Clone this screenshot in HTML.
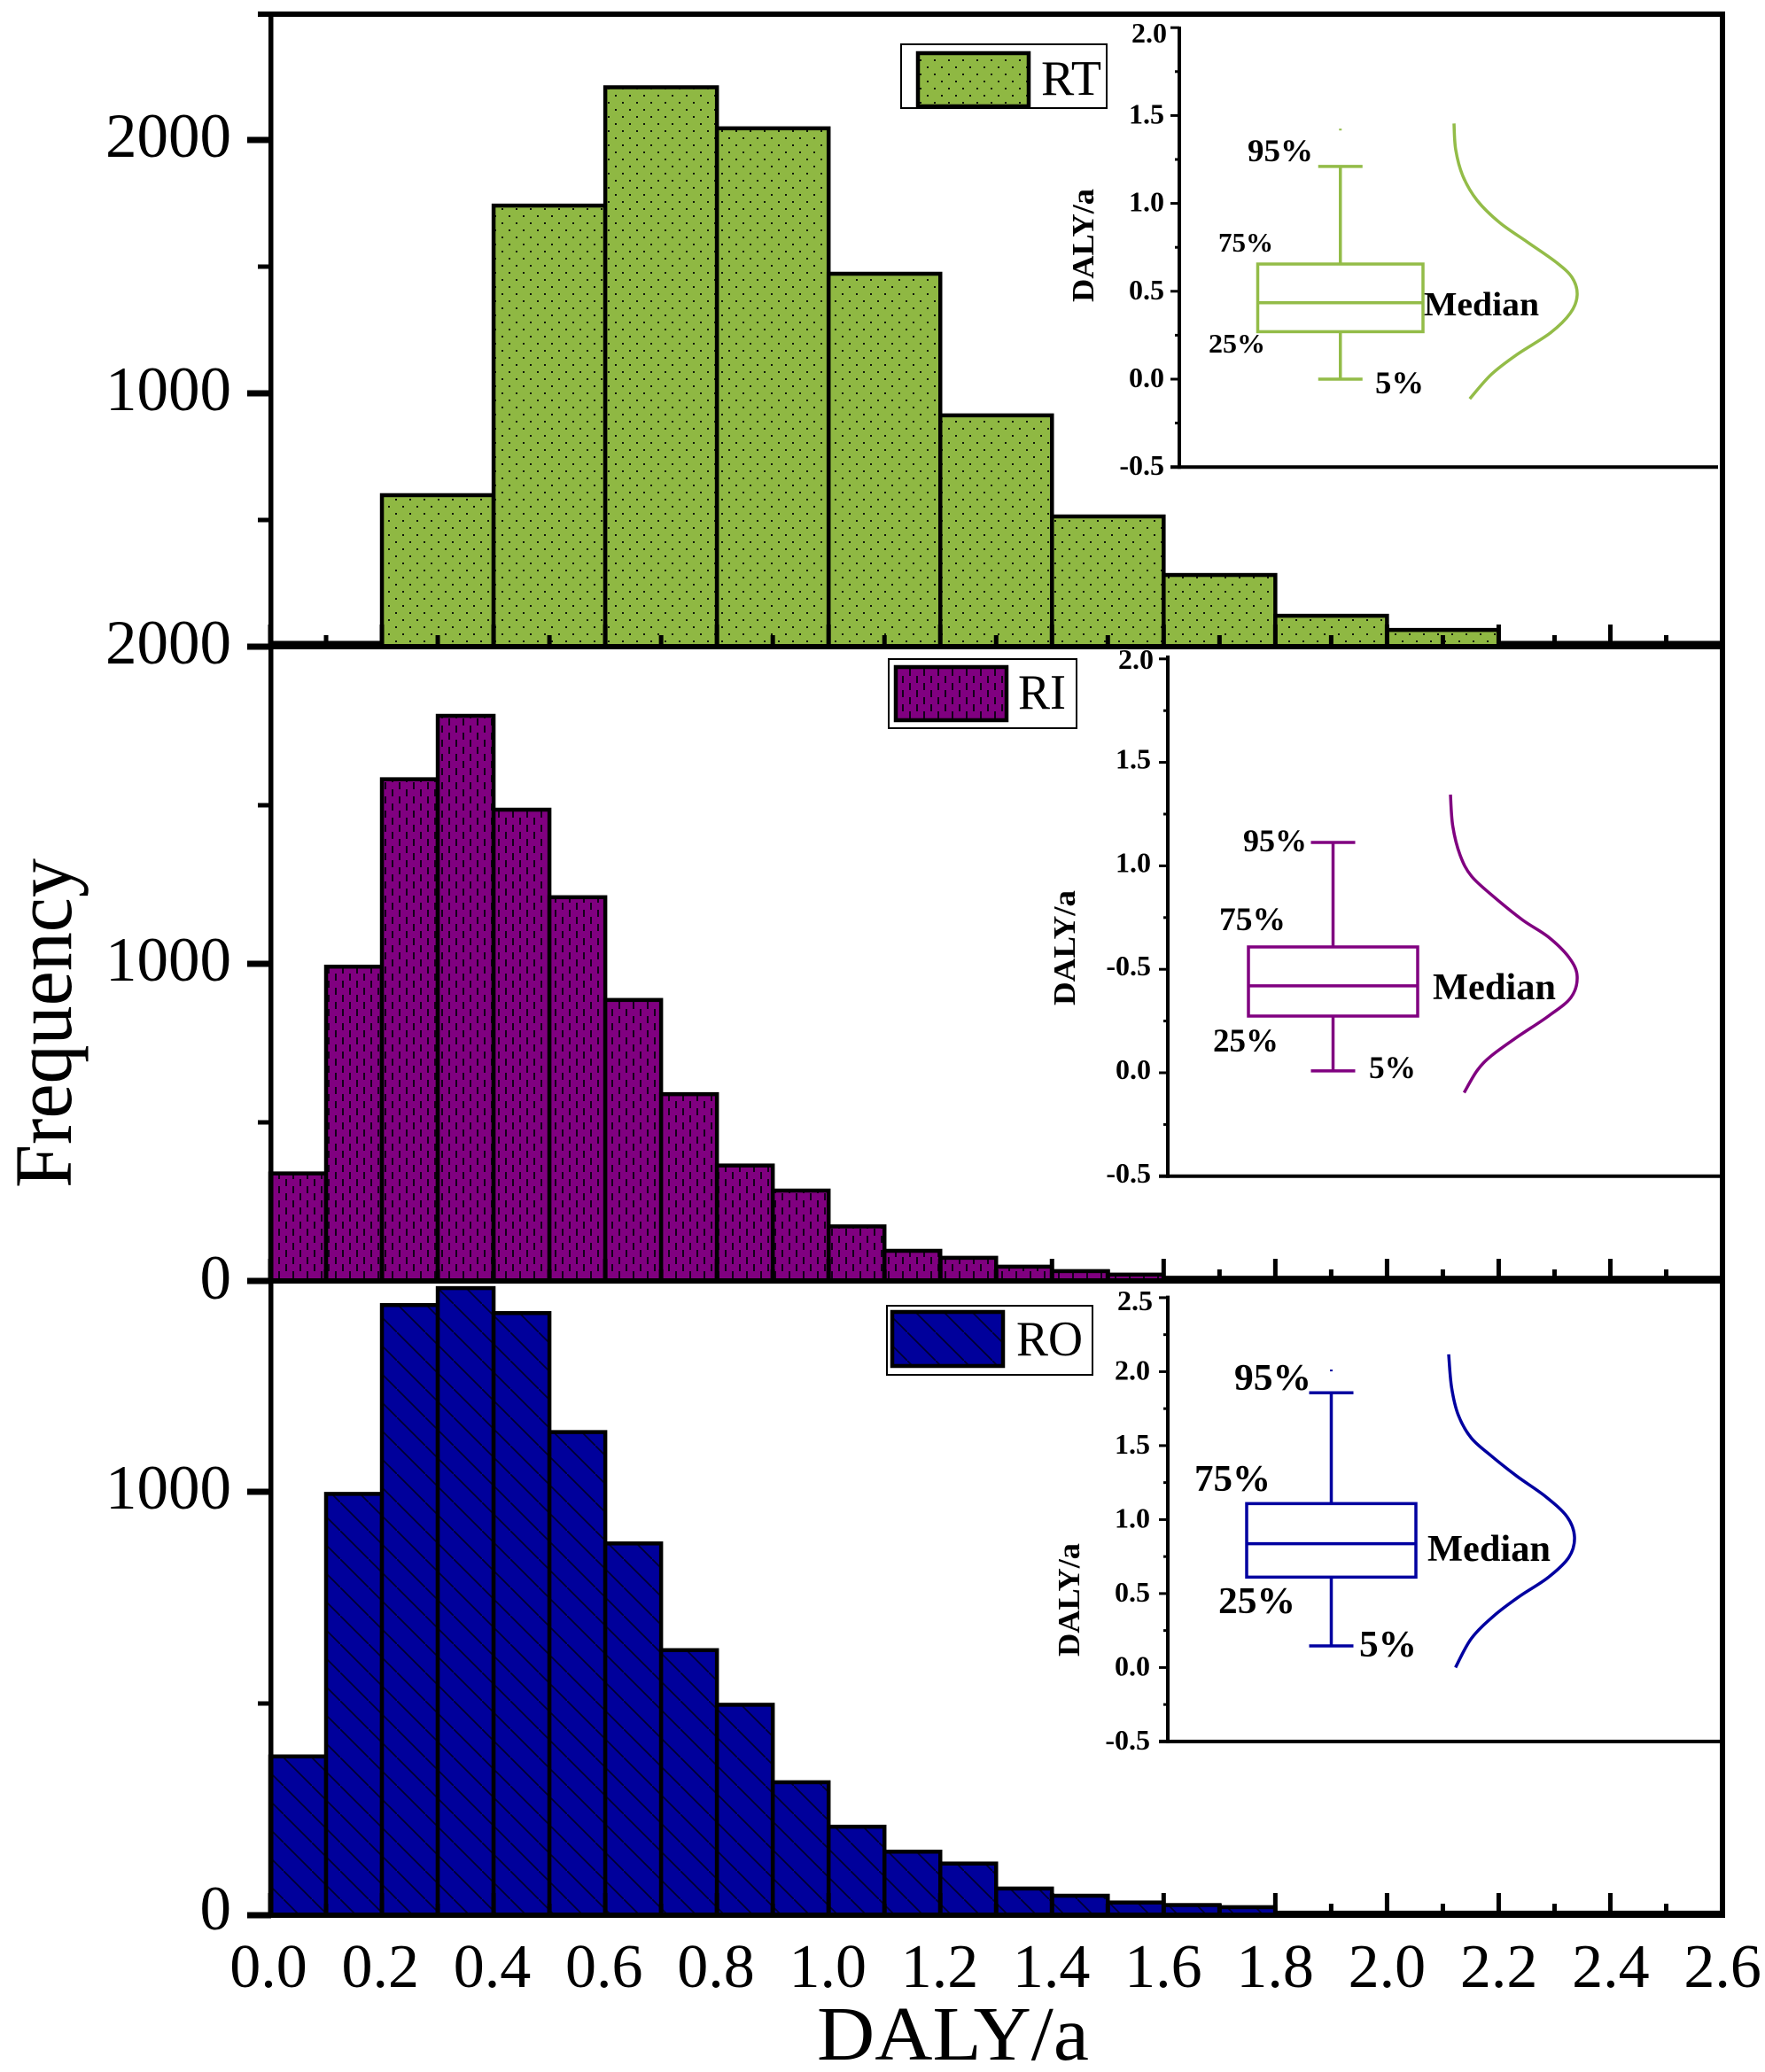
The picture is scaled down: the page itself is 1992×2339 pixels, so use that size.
<!DOCTYPE html>
<html lang="en">
<head>
<meta charset="utf-8">
<title>DALY/a frequency histograms</title>
<style>
html,body{margin:0;padding:0;background:#fff}
svg{display:block}
text{font-family:"Liberation Serif","DejaVu Serif",serif;fill:#000}
.inset-text{font-weight:bold}
</style>
</head>
<body>
<svg id="chart" xmlns="http://www.w3.org/2000/svg" width="1992" height="2339" viewBox="0 0 1992 2339">
  <defs>
    <pattern id="dots" patternUnits="userSpaceOnUse" width="16" height="16" x="14" y="3">
      <rect width="16" height="16" fill="#8fb843"/>
      <rect x="0" y="0" width="2" height="2" fill="#10180a"/>
      <rect x="8" y="8" width="2" height="2" fill="#10180a"/>
    </pattern>
    <pattern id="dashes" patternUnits="userSpaceOnUse" width="16" height="16" x="2" y="3">
      <rect width="16" height="16" fill="#800080"/>
      <rect x="0" y="0" width="2" height="8" fill="#14001a"/>
      <rect x="8" y="8" width="2" height="8" fill="#14001a"/>
    </pattern>
    <pattern id="hatch" patternUnits="userSpaceOnUse" width="32" height="32" x="0" y="0">
      <rect width="32" height="32" fill="#00009b"/>
      <path d="M-4,-4 L36,36" stroke="#000030" stroke-width="1.7" fill="none"/>
    </pattern>
  </defs>
  <rect width="1992" height="2339" fill="#fff"/>
  <g id="bars"></g>
  <g id="axes"></g>
  <g id="insets"></g>

  <g>
    <rect x="1017" y="50" width="232" height="72" fill="#fff" stroke="#000" stroke-width="2"/>
    <rect x="1036" y="60" width="125" height="60" fill="url(#dots)" stroke="#000" stroke-width="4.5"/>
    <text x="1175" y="107" font-size="56" textLength="68" lengthAdjust="spacingAndGlyphs">RT</text>
  </g>
  <g>
    <rect x="1003" y="744" width="212" height="78" fill="#fff" stroke="#000" stroke-width="2"/>
    <rect x="1011" y="753" width="125" height="60" fill="url(#dashes)" stroke="#000" stroke-width="4.5"/>
    <text x="1149" y="800" font-size="56" textLength="54" lengthAdjust="spacingAndGlyphs">RI</text>
  </g>
  <g>
    <rect x="1001" y="1474" width="232" height="78" fill="#fff" stroke="#000" stroke-width="2"/>
    <rect x="1007" y="1481" width="125" height="61" fill="url(#hatch)" stroke="#000" stroke-width="4.5"/>
    <text x="1147" y="1530" font-size="56" textLength="75" lengthAdjust="spacingAndGlyphs">RO</text>
  </g>

  <text transform="translate(80,1341) rotate(-90)" font-size="92" textLength="372" lengthAdjust="spacingAndGlyphs">Frequency</text>
  <text x="922" y="2325" font-size="87" textLength="307" lengthAdjust="spacingAndGlyphs">DALY/a</text>

  <g>
    <text class="inset-text" transform="translate(1234,341) rotate(-90)" font-size="35" textLength="128" lengthAdjust="spacingAndGlyphs">DALY/a</text>
    <text class="inset-text" x="1408" y="182" font-size="36" textLength="74" lengthAdjust="spacingAndGlyphs">95%</text>
    <text class="inset-text" x="1375" y="284" font-size="31" textLength="62" lengthAdjust="spacingAndGlyphs">75%</text>
    <text class="inset-text" x="1364" y="398" font-size="31" textLength="64" lengthAdjust="spacingAndGlyphs">25%</text>
    <text class="inset-text" x="1552" y="444" font-size="36" textLength="55" lengthAdjust="spacingAndGlyphs">5%</text>
    <text class="inset-text" x="1607" y="356" font-size="38" textLength="130" lengthAdjust="spacingAndGlyphs">Median</text>
  </g>
  <g>
    <text class="inset-text" transform="translate(1213,1135) rotate(-90)" font-size="35" textLength="130" lengthAdjust="spacingAndGlyphs">DALY/a</text>
    <text class="inset-text" x="1403" y="961" font-size="36" textLength="72" lengthAdjust="spacingAndGlyphs">95%</text>
    <text class="inset-text" x="1376" y="1050" font-size="37" textLength="75" lengthAdjust="spacingAndGlyphs">75%</text>
    <text class="inset-text" x="1369" y="1187" font-size="37" textLength="74" lengthAdjust="spacingAndGlyphs">25%</text>
    <text class="inset-text" x="1545" y="1217" font-size="36" textLength="53" lengthAdjust="spacingAndGlyphs">5%</text>
    <text class="inset-text" x="1617" y="1128" font-size="42" textLength="139" lengthAdjust="spacingAndGlyphs">Median</text>
  </g>
  <g>
    <text class="inset-text" transform="translate(1218,1870) rotate(-90)" font-size="35" textLength="128" lengthAdjust="spacingAndGlyphs">DALY/a</text>
    <text class="inset-text" x="1393" y="1569" font-size="42" textLength="87" lengthAdjust="spacingAndGlyphs">95%</text>
    <text class="inset-text" x="1348" y="1683" font-size="42" textLength="86" lengthAdjust="spacingAndGlyphs">75%</text>
    <text class="inset-text" x="1375" y="1821" font-size="42" textLength="87" lengthAdjust="spacingAndGlyphs">25%</text>
    <text class="inset-text" x="1534" y="1870" font-size="42" textLength="65" lengthAdjust="spacingAndGlyphs">5%</text>
    <text class="inset-text" x="1611" y="1762" font-size="42" textLength="139" lengthAdjust="spacingAndGlyphs">Median</text>
  </g>
</svg>

<script>
// ---- histogram data ----
const rtBinWidth = 0.2;
const rtCounts = [15, 598, 1741, 2208, 2046, 1472, 913, 514, 283, 122, 66, 15, 15];
const riBinWidth = 0.1;
const riCounts = [339, 991, 1582, 1782, 1486, 1210, 886, 589, 364, 285, 172, 95, 73, 45, 31, 20, 10, 10, 10, 10, 10, 10, 10, 10, 10, 10];
const roBinWidth = 0.1;
const roCounts = [375, 995, 1441, 1481, 1422, 1141, 878, 626, 497, 314, 209, 150, 122, 63, 46, 30, 24, 19, 6, 6, 6, 6, 6, 6, 6, 6];

// ---- main axis ticks ----
const xTickLabels = ['0.0', '0.2', '0.4', '0.6', '0.8', '1.0', '1.2', '1.4', '1.6', '1.8', '2.0', '2.2', '2.4', '2.6'];
const xMinorTicks = [0.1, 0.3, 0.5, 0.7, 0.9, 1.1, 1.3, 1.5, 1.7, 1.9, 2.1, 2.3, 2.5];
const rtYMajor = [0, 1000, 2000];
const rtYLabels = ['2000', '1000', '2000'];
const rtYMinor = [500, 1500];
const riYMajor = [0, 1000];
const riYLabels = ['0', '1000'];
const riYMinor = [500, 1500];
const roYMajor = [0, 1000];
const roYLabels = ['0', '1000'];
const roYMinor = [500];

// ---- inset box-plot data: low whisker, Q1, median, Q3, high whisker ----
const rtBox = [0.0, 0.27, 0.435, 0.655, 1.21];
const riBox = [0.009, 0.274, 0.42, 0.608, 1.113];
const roBox = [0.146, 0.611, 0.837, 1.108, 1.857];
const rtOutliers = [1.42];
const riOutliers = [];
const roOutliers = [2.008];

// ---- inset distribution curves ----
const rtCurveValue = [1.455, 1.305, 1.154, 1.017, 0.89, 0.778, 0.665, 0.578, 0.478, 0.376, 0.264, 0.139, 0.027, -0.112];
const rtCurveDensity = [0, 0.014, 0.073, 0.188, 0.372, 0.6, 0.83, 0.959, 1, 0.945, 0.784, 0.509, 0.303, 0.128];
const riCurveValue = [1.344, 1.193, 1.052, 0.95, 0.849, 0.738, 0.657, 0.556, 0.466, 0.364, 0.273, 0.172, 0.082, 0.011, -0.096];
const riCurveDensity = [0, 0.018, 0.076, 0.166, 0.345, 0.57, 0.771, 0.937, 1, 0.951, 0.771, 0.525, 0.323, 0.211, 0.108];
const roCurveValue = [2.117, 1.894, 1.705, 1.551, 1.431, 1.294, 1.156, 1.019, 0.882, 0.745, 0.607, 0.481, 0.35, 0.196, 0];
const roCurveDensity = [0, 0.023, 0.077, 0.18, 0.338, 0.541, 0.77, 0.941, 1, 0.955, 0.788, 0.563, 0.36, 0.18, 0.054];

// ---- inset axis ticks ----
const rtInsetTicks = [-0.5, 0, 0.5, 1, 1.5, 2];
const rtInsetLabels = ['-0.5', '0.0', '0.5', '1.0', '1.5', '2.0'];
const riInsetTicks = [-0.5, 0, 0.5, 1, 1.5, 2];
const riInsetLabels = ['-0.5', '0.0', '-0.5', '1.0', '1.5', '2.0'];
const roInsetTicks = [-0.5, 0, 0.5, 1, 1.5, 2, 2.5];
const roInsetLabels = ['-0.5', '0.0', '0.5', '1.0', '1.5', '2.0', '2.5'];

const SVGNS = 'http://www.w3.org/2000/svg';
function add(parent, tag, attrs, content) {
  const node = document.createElementNS(SVGNS, tag);
  for (const k in attrs) node.setAttribute(k, attrs[k]);
  if (content !== undefined) node.textContent = content;
  parent.appendChild(node);
  return node;
}

// axis functions
function xScale(v) { return 305 + 630.2 * v; }
function yScale(base, perUnit) { return function (v) { return base - v * perUnit; }; }

const gBars = document.getElementById('bars');
const gAxes = document.getElementById('axes');
const gInsets = document.getElementById('insets');

function drawBars(key, counts, binWidth, y, fill) {
  counts.forEach(function (c, i) {
    const x0 = xScale(i * binWidth);
    const x1 = xScale((i + 1) * binWidth);
    const el = add(gBars, 'rect', { x: x0, y: y(c), width: x1 - x0, height: Math.max(y(0) - y(c), 0), fill: fill, stroke: '#000', 'stroke-width': 4.5 });
    
    
  });
}

function drawPanelAxes(key, y, major, labels, minor, zeroLabelDy) {
  major.forEach(function (v, i) {
    const tick = add(gAxes, 'rect', { x: 279, y: y(v) - 3.5, width: 27, height: 7, fill: '#000' });
    
    
    const dy = (labels[i] === '0') ? zeroLabelDy : 19;
    const lab = add(gAxes, 'text', { x: 261, y: y(v) + dy, 'font-size': 71, 'text-anchor': 'end' }, labels[i]);
    
    
  });
  minor.forEach(function (v) {
    const tick = add(gAxes, 'rect', { x: 291, y: y(v) - 2.5, width: 15, height: 5, fill: '#000' });
    
    
  });
  const baseline = add(gAxes, 'rect', { x: 279, y: y(0) - 3, width: 1668, height: 6, fill: '#000' });
  
  
  xTickLabels.forEach(function (t) {
    const v = parseFloat(t);
    const tick = add(gAxes, 'rect', { x: xScale(v) - 2.5, y: y(0) - 25, width: 5, height: 25, fill: '#000' });
    
    
  });
  xMinorTicks.forEach(function (v) {
    const tick = add(gAxes, 'rect', { x: xScale(v) - 2.5, y: y(0) - 13, width: 5, height: 13, fill: '#000' });
    
    
  });
}

function drawInset(key, g, box, outliers, curveValue, curveDensity, ticks, labels, color) {
  const y = function (v) { return g.zeroY - v * g.unit; };
  const group = add(gInsets, 'g', {});
  
  

  const yAxis = add(group, 'line', { x1: g.axisX, x2: g.axisX, y1: g.topY - 2, y2: y(ticks[0]) + 2, stroke: '#000', 'stroke-width': 4 });
  
  
  const xAxis = add(group, 'line', { x1: g.axisX - 10, x2: g.rightX, y1: y(ticks[0]), y2: y(ticks[0]), stroke: '#000', 'stroke-width': 4 });
  
  

  ticks.forEach(function (v, i) {
    const t = add(group, 'line', { x1: g.axisX - 10, x2: g.axisX, y1: y(v), y2: y(v), stroke: '#000', 'stroke-width': 3 });
    
    
    if (i < ticks.length - 1) {
      const m = add(group, 'line', { x1: g.axisX - 5, x2: g.axisX, y1: y(v + (ticks[i + 1] - v) / 2), y2: y(v + (ticks[i + 1] - v) / 2), stroke: '#000', 'stroke-width': 3 });
      
      
    }
    const isTop = i === ticks.length - 1;
    const lab = add(group, 'text', { x: g.labelX + (isTop ? 3 : 0), y: y(v) + (isTop ? g.topDy : g.labelDy), 'font-size': 32, 'font-weight': 'bold', 'text-anchor': 'end' }, labels[i]);
    
    
  });

  const rect = add(group, 'rect', { x: g.boxLeft, y: y(box[3]), width: g.boxRight - g.boxLeft, height: y(box[1]) - y(box[3]), fill: 'none', stroke: color, 'stroke-width': 3.5 });
  
  
  const med = add(group, 'line', { x1: g.boxLeft, x2: g.boxRight, y1: y(box[2]), y2: y(box[2]), stroke: color, 'stroke-width': 3.5 });
  
  
  const cx = (g.boxLeft + g.boxRight) / 2;
  const wTop = add(group, 'line', { x1: cx, x2: cx, y1: y(box[4]), y2: y(box[3]), stroke: color, 'stroke-width': 3.5 });
  
  
  const wBot = add(group, 'line', { x1: cx, x2: cx, y1: y(box[1]), y2: y(box[0]), stroke: color, 'stroke-width': 3.5 });
  
  
  const cTop = add(group, 'line', { x1: cx - 25, x2: cx + 25, y1: y(box[4]), y2: y(box[4]), stroke: color, 'stroke-width': 3.5 });
  
  
  const cBot = add(group, 'line', { x1: cx - 25, x2: cx + 25, y1: y(box[0]), y2: y(box[0]), stroke: color, 'stroke-width': 3.5 });
  
  
  outliers.forEach(function (v) {
    const o = add(group, 'rect', { x: cx - 1.5, y: y(v) - 1, width: 3, height: 2, fill: color });
    
    
  });

  // smooth curve through the read points (Catmull-Rom)
  const pts = curveValue.map(function (v, i) { return [g.curveX + curveDensity[i] * g.curveW, y(v)]; });
  let d = 'M' + pts[0][0] + ',' + pts[0][1];
  for (let i = 0; i < pts.length - 1; i++) {
    const p0 = pts[Math.max(i - 1, 0)], p1 = pts[i], p2 = pts[i + 1], p3 = pts[Math.min(i + 2, pts.length - 1)];
    d += ' C' + (p1[0] + (p2[0] - p0[0]) / 6) + ',' + (p1[1] + (p2[1] - p0[1]) / 6) + ' ' +
         (p2[0] - (p3[0] - p1[0]) / 6) + ',' + (p2[1] - (p3[1] - p1[1]) / 6) + ' ' + p2[0] + ',' + p2[1];
  }
  const curve = add(group, 'path', { d: d, fill: 'none', stroke: color, 'stroke-width': 3.5 });
  
  
}

const yRT = yScale(730, 0.286);
const yRI = yScale(1446, 0.358);
const yRO = yScale(2162, 0.478);

drawBars('rt', rtCounts, rtBinWidth, yRT, 'url(#dots)');
drawBars('ri', riCounts, riBinWidth, yRI, 'url(#dashes)');
drawBars('ro', roCounts, roBinWidth, yRO, 'url(#hatch)');

drawPanelAxes('rt', yRT, rtYMajor, rtYLabels, rtYMinor, 21);
drawPanelAxes('ri', yRI, riYMajor, riYLabels, riYMinor, 20);
drawPanelAxes('ro', yRO, roYMajor, roYLabels, roYMinor, 16);

const leftAxis = add(gAxes, 'rect', { x: 303, y: 13, width: 5.5, height: 2152, fill: '#000' });


const rightAxis = add(gAxes, 'rect', { x: 1941, y: 13, width: 6, height: 2152, fill: '#000' });


const topAxis = add(gAxes, 'rect', { x: 291, y: 13, width: 1656, height: 6, fill: '#000' });



xTickLabels.forEach(function (t) {
  const lab = add(gAxes, 'text', { x: xScale(parseFloat(t)) - 2 + parseFloat(t), y: 2243, 'font-size': 70, 'text-anchor': 'middle' }, t);
  
  
});

drawInset('rt', { zeroY: 428, unit: 198.4, axisX: 1331, rightX: 1939, topY: 32, labelX: 1314, labelDy: 9, topDy: 17, boxLeft: 1419.5, boxRight: 1606, curveX: 1641, curveW: 139 }, rtBox, rtOutliers, rtCurveValue, rtCurveDensity, rtInsetTicks, rtInsetLabels, '#93bc48');
drawInset('ri', { zeroY: 1211, unit: 233.6, axisX: 1318, rightX: 1942, topY: 742, labelX: 1299, labelDy: 7, topDy: 11, boxLeft: 1409, boxRight: 1600, curveX: 1637, curveW: 143 }, riBox, riOutliers, riCurveValue, riCurveDensity, riInsetTicks, riInsetLabels, '#800080');
drawInset('ro', { zeroY: 1882.4, unit: 167, axisX: 1318, rightX: 1942, topY: 1464.6, labelX: 1298, labelDy: 9, topDy: 14, boxLeft: 1407, boxRight: 1598, curveX: 1635, curveW: 142 }, roBox, roOutliers, roCurveValue, roCurveDensity, roInsetTicks, roInsetLabels, '#0000a0');
</script>
</body>
</html>
